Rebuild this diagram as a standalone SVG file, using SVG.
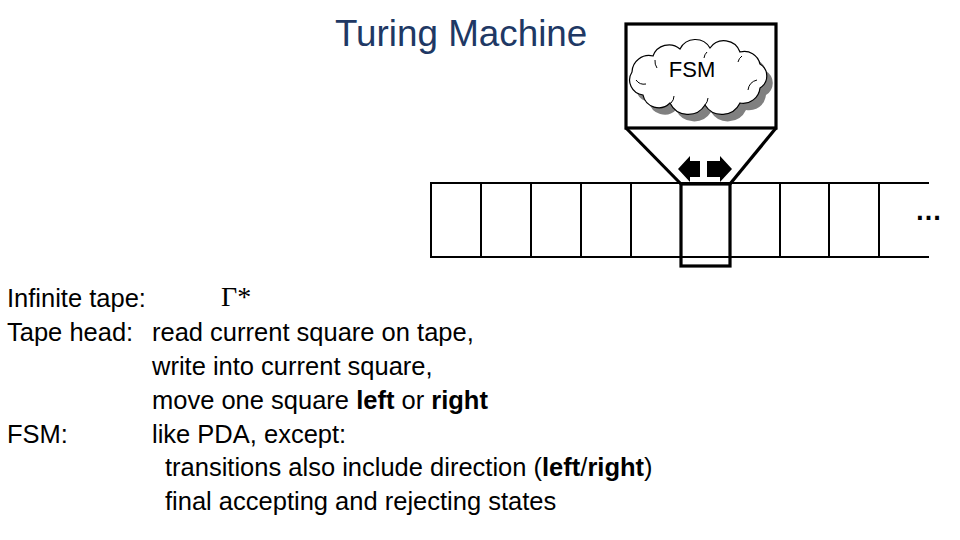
<svg xmlns="http://www.w3.org/2000/svg" width="960" height="540" viewBox="0 0 960 540">
<style>
.body{font-family:"Liberation Sans",Arial,sans-serif;font-size:25.5px;fill:#000}
.b{font-weight:bold}
.thin{fill:none;stroke:#000;stroke-width:2}
.thick{fill:none;stroke:#000;stroke-width:3.2}
.cloud{stroke:#000;stroke-width:1.2;fill:#fff}
</style>
<defs>
<path id="cloudShape" d="M643,95 A15,15 0 0 1 632,72 A17,17 0 0 1 653,56 A17,17 0 0 1 680,49 A17,17 0 0 1 710,48 A17,17 0 0 1 740,52 A16,16 0 0 1 760,64 A14,14 0 0 1 760,88 A17,17 0 0 1 740,103 A20,20 0 0 1 705,105 A20,20 0 0 1 670,103 A16,16 0 0 1 643,95 Z"/>
</defs>
<rect width="960" height="540" fill="#fff"/>
<g id="title">
<text x="335" y="46" style="font-family:'Liberation Sans',Arial,sans-serif;font-size:36.8px;fill:#203864">Turing Machine</text>
</g>
<g id="tape">
<line class="thin" x1="431" y1="183" x2="929" y2="183"/>
<line class="thin" x1="431" y1="257" x2="929" y2="257"/>
<line class="thin" x1="431" y1="182" x2="431" y2="258"/>
<line class="thin" x1="481" y1="183" x2="481" y2="257"/>
<line class="thin" x1="531" y1="183" x2="531" y2="257"/>
<line class="thin" x1="581" y1="183" x2="581" y2="257"/>
<line class="thin" x1="631" y1="183" x2="631" y2="257"/>
<line class="thin" x1="780" y1="183" x2="780" y2="257"/>
<line class="thin" x1="829" y1="183" x2="829" y2="257"/>
<line class="thin" x1="879" y1="183" x2="879" y2="257"/>
<text x="915" y="220" class="body b" style="font-size:27px">…</text>
</g>
<g id="fsm">
<rect class="thick" x="626" y="24" width="150" height="104"/>
<use href="#cloudShape" transform="translate(6,7)" fill="#808080"/>
<use href="#cloudShape" class="cloud"/>
<g fill="none" stroke="#000" stroke-width="1">
<path d="M636,80 A10,10 0 0 0 646,84"/>
<path d="M655,60 A12,12 0 0 0 657,68"/>
<path d="M707,52 A10,10 0 0 0 704,58"/>
<path d="M742,56 A10,10 0 0 0 738,62"/>
<path d="M757,80 A12,12 0 0 0 748,90"/>
<path d="M705,105 A12,12 0 0 0 708,98"/>
<path d="M671,103 A10,10 0 0 0 674,96"/>
</g>
<text x="692" y="77" text-anchor="middle" class="body" style="font-size:22px">FSM</text>
</g>
<g id="connectors">
<line class="thick" x1="626" y1="128" x2="681" y2="184"/>
<line class="thick" x1="776" y1="128" x2="730" y2="184"/>
</g>
<g id="head">
<rect class="thick" x="681" y="184" width="49" height="82"/>
<polygon points="678,169 690,156 690,161 700,161 700,177 690,177 690,182" fill="#000"/>
<polygon points="732,169 720,156 720,161 707,161 707,177 720,177 720,182" fill="#000"/>
</g>
<g id="description" class="body">
<text x="7" y="307">Infinite tape:</text>
<text x="221" y="306" style="font-family:'Liberation Serif','Times New Roman',serif;font-size:28px">Γ*</text>
<text x="7" y="341">Tape head:</text>
<text x="152" y="341">read current square on tape,</text>
<text x="152" y="375">write into current square,</text>
<text x="152" y="409">move one square <tspan class="b">left</tspan> or <tspan class="b">right</tspan></text>
<text x="7" y="443">FSM:</text>
<text x="152" y="443">like PDA, except:</text>
<text x="165" y="476">transitions also include direction (<tspan class="b">left</tspan>/<tspan class="b">right</tspan>)</text>
<text x="165" y="510">final accepting and rejecting states</text>
</g>
</svg>
